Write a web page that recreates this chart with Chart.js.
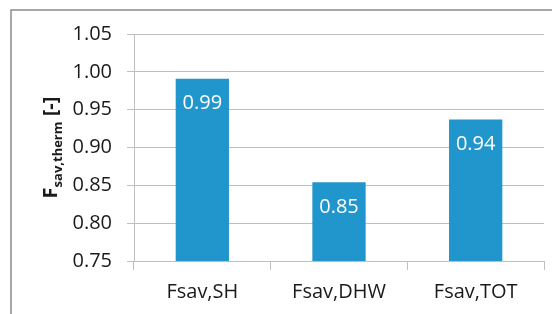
<!DOCTYPE html>
<html>
<head>
<meta charset="utf-8">
<script src="https://cdn.jsdelivr.net/npm/chart.js@4/dist/chart.umd.min.js"></script>
<style>
  html, body { margin: 0; padding: 0; background: #fff; }
  #wrap { width: 552px; height: 314px; position: relative; }
</style>
</head>
<body>
<div id="wrap"><canvas id="c" width="552" height="314"></canvas></div>
<script>
const categories = ['Fsav,SH', 'Fsav,DHW', 'Fsav,TOT'];
const values = [0.991, 0.854, 0.937];
const yTicks = [0.75, 0.80, 0.85, 0.90, 0.95, 1.00, 1.05];

const FONT = "'Open Sans', 'Liberation Sans', sans-serif";

const framePlugin = {
  id: 'frame',
  beforeDraw(chart) {
    const ctx = chart.ctx;
    ctx.save();
    ctx.fillStyle = '#fff';
    ctx.fillRect(0, 0, chart.width, chart.height);
    ctx.strokeStyle = '#8c8c8c';
    ctx.lineWidth = 1.5;
    ctx.beginPath();
    ctx.moveTo(11, chart.height);
    ctx.lineTo(11, 10);
    ctx.lineTo(chart.width, 10);
    ctx.stroke();
    ctx.restore();
  }
};

const labelPlugin = {
  id: 'barLabels',
  afterDatasetsDraw(chart) {
    const ctx = chart.ctx;
    const meta = chart.getDatasetMeta(0);
    ctx.save();
    ctx.fillStyle = '#ffffff';
    ctx.font = '20px ' + FONT;
    ctx.textAlign = 'center';
    ctx.textBaseline = 'middle';
    meta.data.forEach((bar, i) => {
      ctx.fillText(values[i].toFixed(2), bar.x, bar.y + 25);
    });
    ctx.restore();
  }
};

const yTitlePlugin = {
  id: 'yTitle',
  afterDraw(chart) {
    const ctx = chart.ctx;
    const area = chart.chartArea;
    const parts = [
      { t: 'F', f: 'bold 20px ' + FONT, dy: 0 },
      { t: 'sav,therm', f: 'bold 13px ' + FONT, dy: 5 },
      { t: ' [-]', f: 'bold 20px ' + FONT, dy: 0 }
    ];
    ctx.save();
    let total = 0;
    parts.forEach(p => { ctx.font = p.f; p.w = ctx.measureText(p.t).width; total += p.w; });
    ctx.translate(57, (area.top + area.bottom) / 2);
    ctx.rotate(-Math.PI / 2);
    ctx.fillStyle = '#1a1a1a';
    ctx.textBaseline = 'alphabetic';
    ctx.textAlign = 'left';
    let x = -total / 2;
    parts.forEach(p => {
      ctx.font = p.f;
      ctx.fillText(p.t, x, p.dy);
      x += p.w;
    });
    ctx.restore();
  }
};

new Chart(document.getElementById('c'), {
  type: 'bar',
  data: {
    labels: categories,
    datasets: [{
      data: values,
      backgroundColor: '#2196cc',
      borderWidth: 0,
      barPercentage: 0.39,
      categoryPercentage: 1.0
    }]
  },
  options: {
    responsive: false,
    animation: false,
    devicePixelRatio: 1,
    layout: { padding: { left: 0, right: 8, top: 34, bottom: 0 } },
    plugins: {
      legend: { display: false },
      tooltip: { enabled: false },
      title: { display: false }
    },
    scales: {
      x: {
        offset: true,
        grid: {
          offset: true,
          drawOnChartArea: false,
          drawTicks: true,
          tickLength: 9,
          color: '#bfbfbf',
          lineWidth: 1
        },
        border: { color: '#bfbfbf', width: 1 },
        ticks: {
          color: '#1a1a1a',
          font: { family: FONT, size: 20 },
          padding: 10,
          maxRotation: 0
        },
        afterFit(scale) { scale.height = 53; }
      },
      y: {
        min: yTicks[0],
        max: yTicks[yTicks.length - 1],
        afterBuildTicks(scale) { scale.ticks = yTicks.map(v => ({ value: v })); },
        grid: {
          color: '#bfbfbf',
          lineWidth: 1,
          drawTicks: true,
          tickLength: 7
        },
        border: { color: '#bfbfbf', width: 1 },
        ticks: {
          color: '#1a1a1a',
          font: { family: FONT, size: 20 },
          padding: 15,
          callback: v => Number(v).toFixed(2)
        },
        afterFit(scale) { scale.width = 134; }
      }
    }
  },
  plugins: [framePlugin, labelPlugin, yTitlePlugin]
});
</script>
</body>
</html>
